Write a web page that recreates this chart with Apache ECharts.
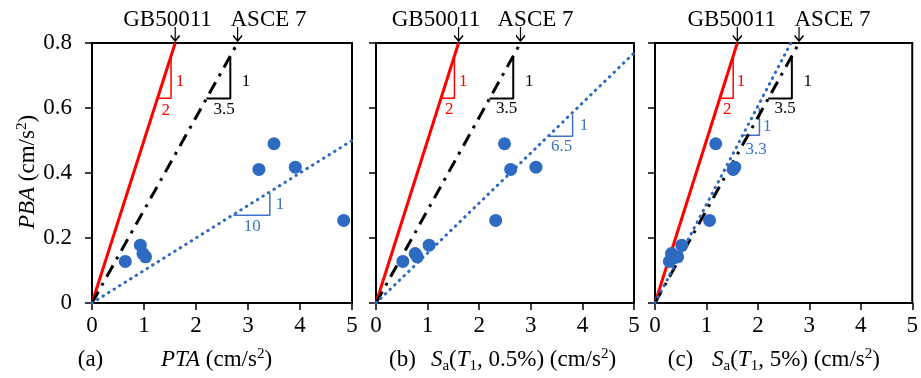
<!DOCTYPE html>
<html>
<head>
<meta charset="utf-8">
<script src="https://cdn.jsdelivr.net/npm/echarts@6/dist/echarts.min.js"></script>
<style>
  html, body { margin: 0; padding: 0; background: #fff; }
  #chart { width: 921px; height: 378px; }
</style>
</head>
<body>
<div id="chart"></div>
<script>
// Peak building acceleration vs. three ground-motion intensity measures
const pbaValues  = [0.128, 0.178, 0.152, 0.142, 0.411, 0.490, 0.418, 0.254];
const ptaValues  = [0.64, 0.93, 0.98, 1.03, 3.21, 3.50, 3.91, 4.84];
const sa05Values = [0.52, 1.03, 0.76, 0.80, 2.61, 2.49, 3.10, 2.32];
const sa5Values  = [0.28, 0.52, 0.32, 0.44, 1.52, 1.18, 1.55, 1.06];

// Code-based ratios (intensity / PBA) and fitted ratios per panel
const gbRatio = 2;
const asceRatio = 3.5;
const fitRatios = [10, 6.5, 3.3];
const fitLabels = ['10', '6.5', '3.3'];

// Axis ranges and ticks
const xTicks = [0, 1, 2, 3, 4, 5];
const yTicks = [0, 0.2, 0.4, 0.6, 0.8];
const xMax = 5, yMax = 0.8;

// Slope-triangle vertices (data units)
const gbTriangle   = [[1.26, 0.63], [1.52, 0.63], [1.52, 0.76]];
const asceTriangle = [[2.20, 0.629], [2.66, 0.629], [2.66, 0.757]];
const fitTriangles = [
  [[2.72, 0.27], [3.42, 0.27], [3.42, 0.338]],
  [[3.35, 0.513], [3.81, 0.513], [3.81, 0.58]],
  [[1.72, 0.516], [2.03, 0.516], [2.03, 0.60]]
];
// Arrow positions on the top edge (where the code lines meet y = 0.8)
const arrowX = [gbRatio * yMax, asceRatio * yMax];

const seriesX = [ptaValues, sa05Values, sa5Values];

const RED = '#ff0000';
const BLUE = '#2e6ac2';
const BLUE_TXT = '#3f72c8';
const FONT = '"Liberation Serif", "Times New Roman", serif';
const FS = 23;

function refLine(ratio) {
  const xe = Math.min(xMax, yMax * ratio);
  return [[0, 0], [xe, xe / ratio]];
}

const grids = [
  { left: 92, top: 43, width: 260, height: 260 },
  { left: 376, top: 43, width: 258, height: 260 },
  { left: 655, top: 43, width: 258, height: 260 }
].map(g => Object.assign({ show: true, borderColor: '#000', borderWidth: 2, backgroundColor: 'transparent' }, g));

const xAxes = grids.map((g, i) => ({
  type: 'value', gridIndex: i, min: 0, max: xMax, interval: 1,
  axisLine: { show: true, onZero: false, lineStyle: { color: '#000', width: 2 } },
  axisTick: { show: true, inside: false, length: 7, lineStyle: { color: '#000', width: 1.5 } },
  axisLabel: { show: true, margin: 11, color: '#000', fontFamily: FONT, fontSize: FS,
               formatter: v => String(xTicks[xTicks.indexOf(v)]) },
  splitLine: { show: false }
}));

const yAxes = grids.map((g, i) => ({
  type: 'value', gridIndex: i, min: 0, max: yMax, interval: 0.2,
  axisLine: { show: true, onZero: false, lineStyle: { color: '#000', width: 2 } },
  axisTick: { show: true, inside: false, length: 7, lineStyle: { color: '#000', width: 1.5 } },
  axisLabel: { show: i === 0, margin: 20, color: '#000', fontFamily: FONT, fontSize: FS,
               formatter: v => { const t = yTicks.find(k => Math.abs(k - v) < 1e-9); return t === 0 ? '0' : t.toFixed(1); } },
  splitLine: { show: false }
}));

const series = [];
for (let i = 0; i < 3; i++) {
  const ax = { xAxisIndex: i, yAxisIndex: i };
  series.push(Object.assign({
    type: 'line', data: refLine(gbRatio), symbol: 'none', z: 3,
    lineStyle: { color: RED, width: 3 }
  }, ax));
  series.push(Object.assign({
    type: 'line', data: refLine(asceRatio), symbol: 'none', z: 3,
    lineStyle: { color: '#000', width: 3, type: [13, 7, 3, 7] }
  }, ax));
  series.push(Object.assign({
    type: 'line', data: refLine(fitRatios[i]), symbol: 'none', z: 3,
    lineStyle: { color: BLUE, width: 3, type: [0.5, 6], cap: 'round' }
  }, ax));
  series.push(Object.assign({
    type: 'line', data: gbTriangle, symbol: 'none', z: 2,
    lineStyle: { color: RED, width: 1.5 }
  }, ax));
  series.push(Object.assign({
    type: 'line', data: asceTriangle, symbol: 'none', z: 2,
    lineStyle: { color: '#000', width: 2 }
  }, ax));
  series.push(Object.assign({
    type: 'line', data: fitTriangles[i], symbol: 'none', z: 2,
    lineStyle: { color: BLUE_TXT, width: 1.5 }
  }, ax));
  series.push(Object.assign({
    type: 'scatter', symbol: 'circle', symbolSize: 13, z: 5,
    itemStyle: { color: BLUE, opacity: 1 },
    data: seriesX[i].map((x, k) => [x, pbaValues[k]])
  }, ax));
  // downward arrows marking where the code lines reach the top edge
  series.push(Object.assign({
    type: 'scatter', clip: false, z: 6,
    symbol: 'path://M5,0 L5,15 M0.5,9 L5,15 L9.5,9',
    symbolSize: [9, 14], symbolOffset: [0, -9],
    itemStyle: { color: 'rgba(0,0,0,0)', borderColor: '#000', borderWidth: 1.5, opacity: 1 },
    data: arrowX.map(x => [x, yMax])
  }, ax));
}

function txt(x, y, text, size, color, extra) {
  return Object.assign({
    type: 'text', x: x, y: y, silent: true,
    style: Object.assign({
      text: text, fill: color || '#000', font: (size || FS) + 'px ' + FONT,
      fontFamily: FONT, fontSize: size || FS,
      align: 'center', verticalAlign: 'middle', textAlign: 'center', textVerticalAlign: 'middle'
    }, extra || {})
  });
}

const rich = {
  i:   { fontStyle: 'italic', fontFamily: FONT, fontSize: FS, lineHeight: 27 },
  n:   { fontFamily: FONT, fontSize: FS, lineHeight: 27 },
  sup: { fontFamily: FONT, fontSize: 15, lineHeight: 15, verticalAlign: 'top' },
  sub: { fontFamily: FONT, fontSize: 15, lineHeight: 15, verticalAlign: 'bottom' }
};

const graphic = [
  // code labels above each panel
  txt(167.5, 20, 'GB50011'), txt(268.5, 20, 'ASCE 7'),
  txt(436, 20, 'GB50011'), txt(535.5, 20, 'ASCE 7'),
  txt(731.7, 20, 'GB50011'), txt(832.5, 20, 'ASCE 7'),
  // slope labels, panel (a)
  txt(180, 82, '1', 17, RED), txt(165.7, 111, '2', 17, RED),
  txt(246, 82, '1', 17), txt(224, 110, '3.5', 17),
  txt(280, 205, '1', 17, BLUE_TXT), txt(252.3, 226.5, fitLabels[0], 17, BLUE_TXT),
  // panel (b)
  txt(463.3, 82, '1', 17, RED), txt(449.3, 110, '2', 17, RED),
  txt(529.3, 82, '1', 17), txt(506.7, 108.5, '3.5', 17),
  txt(584, 126, '1', 17, BLUE_TXT), txt(561.7, 146.5, fitLabels[1], 17, BLUE_TXT),
  // panel (c)
  txt(741, 82, '1', 17, RED), txt(727.3, 110, '2', 17, RED),
  txt(807.7, 82, '1', 17), txt(785, 108.5, '3.5', 17),
  txt(767.3, 126.5, '1', 17, BLUE_TXT), txt(756, 150, fitLabels[2], 17, BLUE_TXT),
  // panel captions and axis titles
  txt(90.5, 360, '(a)'),
  txt(216.5, 360, '', FS, '#000', { text: '{i|PTA}{n| (cm/s}{sup|2}{n|)}', rich: rich }),
  txt(402.5, 360, '(b)'),
  txt(523.5, 360, '', FS, '#000', { text: '{i|S}{sub|a}{n|(}{i|T}{sub|1}{n|, 0.5%) (cm/s}{sup|2}{n|)}', rich: rich }),
  txt(680.5, 360, '(c)'),
  txt(796, 360, '', FS, '#000', { text: '{i|S}{sub|a}{n|(}{i|T}{sub|1}{n|, 5%) (cm/s}{sup|2}{n|)}', rich: rich }),
  Object.assign(txt(28, 172, '', FS, '#000', { text: '{i|PBA}{n| (cm/s}{sup|2}{n|)}', rich: rich }), { rotation: Math.PI / 2 })
];

const chart = echarts.init(document.getElementById('chart'), null, { renderer: 'canvas' });
chart.setOption({
  animation: false,
  backgroundColor: '#fff',
  grid: grids,
  xAxis: xAxes,
  yAxis: yAxes,
  series: series,
  graphic: graphic
});
</script>
</body>
</html>
